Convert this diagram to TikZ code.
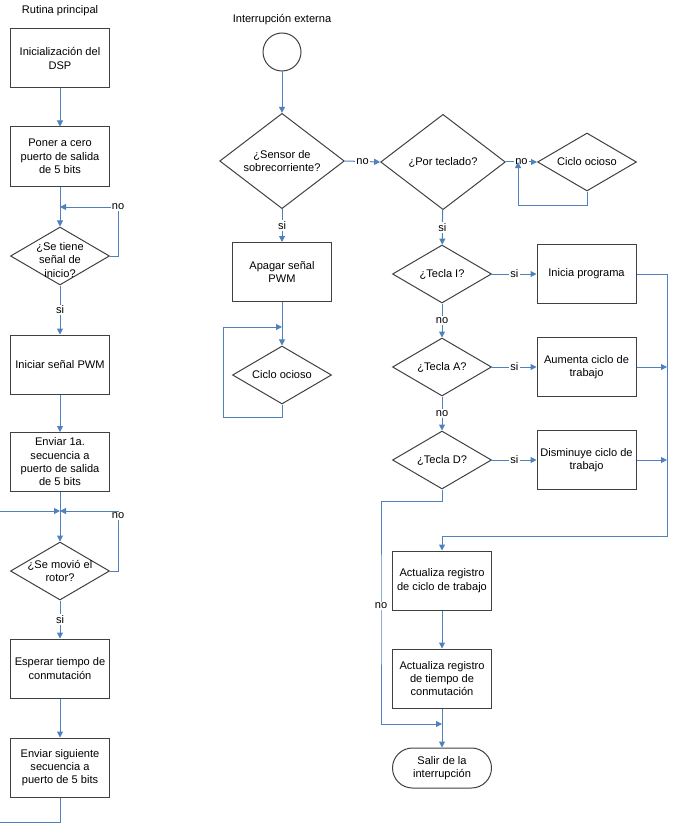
\documentclass[tikz,border=0pt]{standalone}
\usepackage{fontspec}
\setmainfont{Liberation Sans}
\usetikzlibrary{shapes.geometric,arrows.meta,positioning,calc}
\definecolor{flujo}{RGB}{79,129,189}
\definecolor{borde}{RGB}{64,64,64}
\tikzset{
  proceso/.style={draw=borde, line width=0.75pt, minimum width=74.25pt, minimum height=44.25pt, align=center, inner sep=1pt},
  decision/.style={diamond, draw=borde, line width=0.75pt, minimum width=74.25pt, minimum height=43.5pt, inner sep=0pt},
  decgrande/.style={decision, minimum width=93.5pt, minimum height=71.5pt},
  terminal/.style={proceso, minimum height=30pt, rounded corners=15pt},
  inicio/.style={circle, draw=borde, line width=0.75pt, minimum size=28.5pt, inner sep=0pt},
  texto/.style={align=center},
  linea/.style={draw=flujo, line width=0.75pt},
  flecha/.style={linea, -{Triangle[length=4.5pt,width=4.5pt]}},
  etiq/.style={fill=white, inner sep=1pt}
}
\begin{document}
\begin{tikzpicture}[x=0.75pt, y=-0.75pt, font=\fontsize{8.3}{10}\selectfont]
    \useasboundingbox (0,0) rectangle (672,838);
    % rutina principal
    \node[texto] (tit1) at (60,11) {Rutina principal};
    \node[proceso] (b1) at (60,58.5) {Inicialización del\\DSP};
    \node[proceso] (b2) at (60,156.5) {Poner a cero\\puerto de salida\\de 5 bits};
    \node[decision, label={[texto, yshift=-3pt]center:{¿Se tiene\\señal de\\inicio?}}] (d1) at (60,256) {};
    \node[proceso] (b3) at (60,364.5) {Iniciar señal PWM};
    \node[proceso] (b4) at (60,462) {Enviar 1a.\\secuencia a\\puerto de salida\\de 5 bits};
    \node[decision, label={[texto]center:{¿Se movió el\\rotor?}}] (d2) at (60,571) {};
    \node[proceso] (b5) at (60,668.5) {Esperar tiempo de\\conmutación};
    \node[proceso] (b6) at (60,767.5) {Enviar siguiente\\secuencia a\\puerto de 5 bits};
    \coordinate (c1) at (118,207); \coordinate (j1) at (60,207);
    \coordinate (c2) at (118,511); \coordinate (j2) at (60,511);
    \coordinate (lx1) at (0,822); \coordinate (lx2) at (0,511);
    \draw[flecha] (b1) -- (b2);
    \draw[flecha] (b2) -- (d1);
    \draw[flecha] (d1.east) -| (c1) -- (j1);
    \node[etiq] (no1) at (c1) {no};
    \draw[flecha] (d1) -- node[etiq] (si1) {si} (b3);
    \draw[flecha] (b3) -- (b4);
    \draw[flecha] (b4) -- (d2);
    \draw[flecha] (d2.east) -| (c2) -- (j2);
    \node[etiq] (no2) at (118,516) {no};
    \draw[flecha] (lx2) -- (j2);
    \draw[flecha] (d2) -- node[etiq] (si2) {si} (b5);
    \draw[flecha] (b5) -- (b6);
    \draw[linea] (b6.south) |- (lx1);
    % interrupcion externa
    \node[texto] (tit2) at (282,20) {Interrupción externa};
    \node[inicio] (ini0) at (282,52) {};
    \node[decgrande, label={[texto]center:{¿Sensor de\\sobrecorriente?}}] (sens) at (282,161) {};
    \node[proceso] (apag) at (282,272) {Apagar señal\\PWM};
    \node[decision, label={[texto]center:Ciclo ocioso}] (cio1) at (282,375) {};
    \node[decgrande, label={[texto]center:¿Por teclado?}] (por) at (443,162) {};
    \node[decision, label={[texto]center:Ciclo ocioso}] (cio2) at (587,162) {};
    \node[decision, label={[texto]center:¿Tecla I?}] (tecI) at (442,274) {};
    \node[decision, label={[texto]center:¿Tecla A?}] (tecA) at (442,367) {};
    \node[decision, label={[texto]center:¿Tecla D?}] (tecD) at (442,460) {};
    \node[proceso] (inip) at (586.5,274) {Inicia programa};
    \node[proceso] (aum) at (586.5,367) {Aumenta ciclo de\\trabajo};
    \node[proceso] (dis) at (586.5,460) {Disminuye ciclo de\\trabajo};
    \node[proceso] (act1) at (442,580.5) {Actualiza registro\\de ciclo de trabajo};
    \node[proceso] (act2) at (442,678.5) {Actualiza registro\\de tiempo de\\conmutación};
    \node[terminal] (salir) at (442,768) {Salir de la\\interrupción};
    \coordinate (lp1) at (223,327); \coordinate (j3) at (282,327);
    \coordinate (j4) at (518,162);
    \coordinate (bus) at (667,536);
    \coordinate (nocol) at (381,606); \coordinate (jn2) at (442,724);
    \draw[flecha] (ini0) -- (sens);
    \draw[flecha] (sens) -- node[etiq] (si3) {si} (apag);
    \draw[flecha] (apag) -- (cio1);
    \draw[flecha] (cio1.south) -- ++(0,13) -| (lp1) -- (j3);
    \draw[flecha] (sens.east) -- node[etiq] (no3) {no} (por.west);
    \draw[flecha] (por.east) -- node[etiq] (no4) {no} (cio2.west);
    \draw[flecha] (cio2.south) -- ++(0,14) -| (j4);
    \draw[flecha] (por) -- node[etiq] (si4) {si} (tecI);
    \draw[flecha] (tecI) -- node[etiq] (no5) {no} (tecA);
    \draw[flecha] (tecA) -- node[etiq] (no6) {no} (tecD);
    \draw[flecha] (tecI) -- node[etiq] (si5) {si} (inip);
    \draw[flecha] (tecA) -- node[etiq] (si6) {si} (aum);
    \draw[flecha] (tecD) -- node[etiq] (si7) {si} (dis);
    \draw[flecha] (inip.east) -| (bus) -| (act1.north);
    \draw[flecha] (aum.east) -- (aum.east -| bus);
    \draw[flecha] (dis.east) -- (dis.east -| bus);
    \draw[flecha] (act1) -- (act2);
    \draw[flecha] (act2) -- (salir);
    \draw[flecha] (tecD.south) -- ++(0,12) -| (nocol) |- (jn2);
    \node[etiq] (no7) at (nocol) {no};
\end{tikzpicture}
\end{document}
